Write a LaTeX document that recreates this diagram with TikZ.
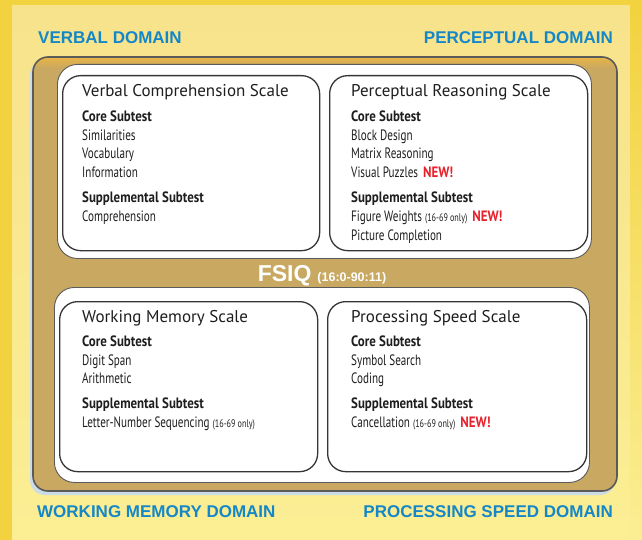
\documentclass[tikz,border=0pt]{standalone}
\usepackage{fontspec}
\setmainfont{PT Sans}
\newfontfamily\titlef{PT Sans}[FakeStretch=1.0]
\newfontfamily\condr{PT Sans}[FakeStretch=0.74]
\newfontfamily\condb{PT Sans}[FakeStretch=0.86]
\newfontfamily\arialb{Liberation Sans}
\definecolor{darkyel}{HTML}{F3D23F}
\definecolor{paleyel}{HTML}{F7E38C}
\definecolor{paleyelb}{HTML}{FBEE93}
\definecolor{brownbox}{HTML}{C9A862}
\definecolor{goldhl}{HTML}{E9B544}
\definecolor{shadowblue}{HTML}{CCDCE6}
\definecolor{domblue}{HTML}{1487C8}
\definecolor{newred}{HTML}{E8212B}
\definecolor{edgegray}{HTML}{5A5A5A}
\definecolor{ink}{HTML}{1E1E1E}
\newcommand\wnew{\hspace{5pt}{\condb\bfseries\color{newred}NEW!}}
\newcommand\wonly{{\fontsize{11}{13}\selectfont(16-69 only)}}
\tikzset{
  domlabel/.style={inner sep=0pt, font=\arialb\bfseries\fontsize{17}{20}\selectfont, text=domblue},
  scaletitle/.style={anchor=base west, inner sep=0pt, font=\titlef\fontsize{17}{20}\selectfont, text=ink},
  hdr/.style={anchor=base west, inner sep=0pt, font=\condb\bfseries\fontsize{15}{18}\selectfont, text=ink},
  item/.style={anchor=base west, inner sep=0pt, font=\condr\fontsize{15}{18}\selectfont, text=ink},
  whitebox/.style={draw=edgegray, line width=0.9pt, fill=white, rounded corners=20pt, anchor=north west, inner sep=0pt},
  scalebox/.style={draw=ink!90, line width=1.3pt, fill=white, rounded corners=18pt, anchor=north west, inner sep=0pt},
}
\begin{document}
\begin{tikzpicture}[x=1pt,y=-1pt]
\useasboundingbox (0,0) rectangle (642,540);
% background
\fill[darkyel] (0,0) rectangle (642,540);
\shade[top color=paleyel, bottom color=paleyelb] (12,6) rectangle (630,540);
\shade[top color=darkyel, bottom color=paleyelb] (630,6) rectangle (642,540);
% shadow of the domain box
\fill[shadowblue, rounded corners=15pt] (30,60) rectangle (615,495);
% domain box
\node[fill=brownbox, rounded corners=15pt, minimum width=584pt, minimum height=434pt, anchor=north west, inner sep=0pt] (fsiqbox) at (33,57) {};
\begin{scope}
  \clip[rounded corners=15pt] (33,57) rectangle (617,491);
  \shade[top color=goldhl, bottom color=brownbox] (33,57) rectangle (617,68);
\end{scope}
\draw[edgegray, line width=1.6pt, rounded corners=15pt] (33,57) rectangle (617,491);
% white boxes
\node[whitebox, minimum width=534pt, minimum height=194pt] (topwhite) at (57,64) {};
\node[whitebox, minimum width=535pt, minimum height=195pt] (botwhite) at (54,287) {};
% scale boxes
\node[scalebox, minimum width=257pt, minimum height=175pt] (vcs) at (62,75) {};
\node[scalebox, minimum width=258pt, minimum height=175pt] (prs) at (329,75) {};
\node[scalebox, minimum width=258pt, minimum height=170pt] (wms) at (59,301) {};
\node[scalebox, minimum width=259pt, minimum height=170pt] (pss) at (327,301) {};
% FSIQ
\node[anchor=base, inner sep=0pt, text=white, font=\arialb\bfseries] (fsiq) at (322,281)
  {{\fontsize{23}{26}\selectfont FSIQ}\hspace{6pt}{\fontsize{12.5}{14}\selectfont(16:0-90:11)}};
% domain labels
\node[domlabel, anchor=base west] (vd) at (38,44) {VERBAL DOMAIN};
\node[domlabel, anchor=base east] (pd) at (613,44) {PERCEPTUAL DOMAIN};
\node[domlabel, anchor=base west] (wd) at (37,517) {WORKING MEMORY DOMAIN};
\node[domlabel, anchor=base east] (sd) at (613,517) {PROCESSING SPEED DOMAIN};
% Verbal comprehension
\node[scaletitle] (vct) at (82,97) {Verbal Comprehension Scale};
\node[hdr] (vch1) at (82,122) {Core Subtest};
\node[item] (vc1) at (82,141) {Similarities};
\node[item] (vc2) at (82,159) {Vocabulary};
\node[item] (vc3) at (82,178) {Information};
\node[hdr] (vch2) at (82,202) {Supplemental Subtest};
\node[item] (vc4) at (82,221) {Comprehension};
% Perceptual reasoning
\node[scaletitle] (prt) at (351,97) {Perceptual Reasoning Scale};
\node[hdr] (prh1) at (351,122) {Core Subtest};
\node[item] (pr1) at (351,141) {Block Design};
\node[item] (pr2) at (351,159) {Matrix Reasoning};
\node[item] (pr3) at (351,178) {Visual Puzzles\wnew};
\node[hdr] (prh2) at (351,202) {Supplemental Subtest};
\node[item] (pr4) at (351,221) {Figure Weights \wonly\wnew};
\node[item] (pr5) at (351,240) {Picture Completion};
% Working memory
\node[scaletitle] (wmt) at (82,322) {Working Memory Scale};
\node[hdr] (wmh1) at (82,346) {Core Subtest};
\node[item] (wm1) at (82,365) {Digit Span};
\node[item] (wm2) at (82,383) {Arithmetic};
\node[hdr] (wmh2) at (82,408) {Supplemental Subtest};
\node[item] (wm3) at (82,427) {Letter-Number Sequencing \wonly};
% Processing speed
\node[scaletitle] (pst) at (351,322) {Processing Speed Scale};
\node[hdr] (psh1) at (351,346) {Core Subtest};
\node[item] (ps1) at (351,365) {Symbol Search};
\node[item] (ps2) at (351,383) {Coding};
\node[hdr] (psh2) at (351,408) {Supplemental Subtest};
\node[item] (ps3) at (351,427) {Cancellation \wonly\wnew};
\end{tikzpicture}
\end{document}
